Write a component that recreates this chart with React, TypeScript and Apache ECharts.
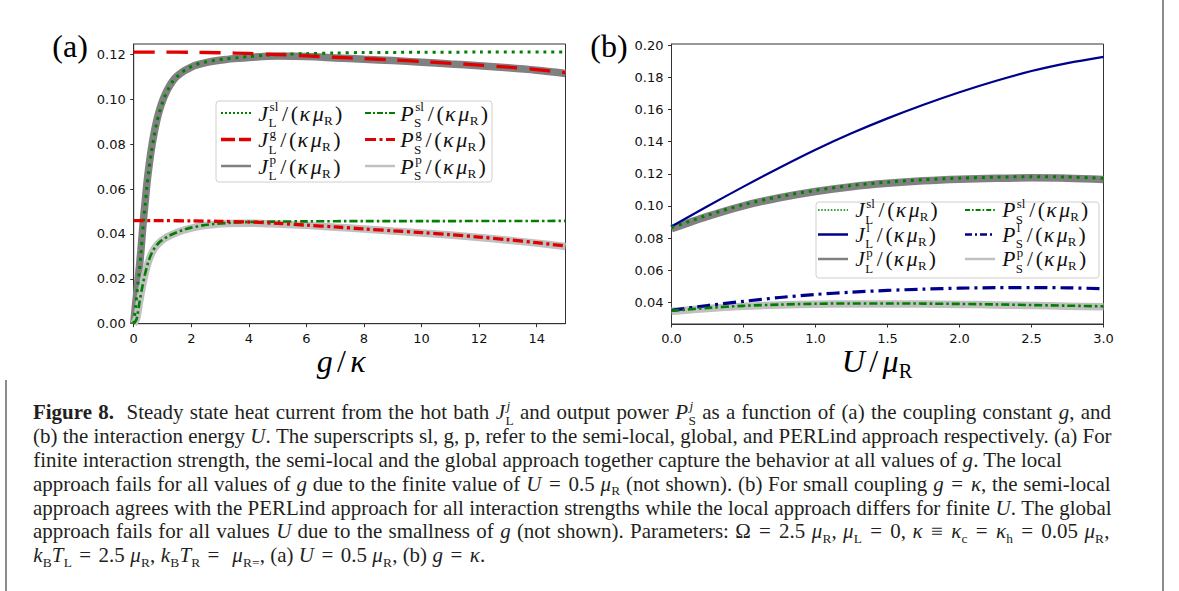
import React, { useEffect, useRef } from 'react';
import * as echarts from 'echarts';

// ---------------- Panel (a): x = g/κ ----------------
const A_Jsl: number[][] = [[0,0],[0.07,0.008],[0.14,0.017],[0.2,0.024],[0.25,0.031],[0.3,0.039],[0.35,0.0465],[0.4,0.053],[0.46,0.061],[0.53,0.0685],[0.61,0.076],[0.7,0.083],[0.8,0.0895],[0.9,0.0945],[1.0,0.0985],[1.1,0.1018],[1.2,0.1045],[1.35,0.1078],[1.5,0.11],[1.7,0.1122],[1.85,0.1135],[2.1,0.1152],[2.4,0.1163],[2.8,0.1173],[3.2,0.118],[3.6,0.1185],[4.0,0.119],[4.5,0.1195],[5,0.1199],[6,0.1203],[7,0.1206],[8,0.1208],[10,0.1209],[12,0.121],[15,0.121]];
const A_Jg: number[][] = [[0,0.121],[1,0.121],[2,0.1209],[3,0.1207],[4,0.1204],[5,0.1199],[6,0.1193],[7,0.1187],[8,0.1181],[9,0.1175],[10,0.1168],[11,0.116],[12,0.1152],[13,0.1143],[14,0.1132],[15,0.1118]];
const A_Jp: number[][] = [[0,0],[0.07,0.009],[0.14,0.018],[0.2,0.0255],[0.25,0.0325],[0.3,0.0405],[0.35,0.048],[0.4,0.0545],[0.46,0.0625],[0.53,0.07],[0.61,0.0775],[0.7,0.0843],[0.8,0.0905],[0.9,0.0953],[1.0,0.0992],[1.1,0.1023],[1.2,0.1049],[1.35,0.108],[1.5,0.1102],[1.7,0.1122],[1.85,0.1133],[2.1,0.1149],[2.4,0.116],[2.8,0.117],[3.2,0.1177],[3.6,0.1182],[4.0,0.1186],[4.5,0.119],[5,0.1192],[6,0.119],[7,0.1184],[8,0.1178],[9,0.1172],[10,0.1165],[11,0.1157],[12,0.1149],[13,0.114],[14,0.1129],[15,0.1115]];
const A_Psl: number[][] = [[0,0],[0.1,0.002],[0.2,0.0095],[0.3,0.0165],[0.4,0.0225],[0.5,0.0272],[0.6,0.0307],[0.7,0.0332],[0.8,0.035],[0.9,0.0364],[1.0,0.0374],[1.2,0.039],[1.4,0.0402],[1.7,0.0417],[2.0,0.0428],[2.4,0.0438],[2.8,0.0444],[3.3,0.0449],[4,0.0453],[5,0.0455],[6,0.0456],[8,0.0457],[10,0.0457],[15,0.0458]];
const A_Pg: number[][] = [[0,0.0459],[1,0.0459],[2,0.0458],[3,0.0456],[4,0.0453],[5,0.0447],[6,0.0439],[7,0.0431],[8,0.0422],[9,0.0414],[10,0.0406],[11,0.0397],[12,0.0386],[13,0.0374],[14,0.0361],[15,0.0346]];
const A_Pp: number[][] = [[0,0],[0.1,0.0022],[0.2,0.0095],[0.3,0.0165],[0.4,0.0225],[0.5,0.0272],[0.6,0.0306],[0.7,0.0331],[0.8,0.0349],[0.9,0.0362],[1.0,0.0373],[1.2,0.0389],[1.4,0.0401],[1.7,0.0415],[2.0,0.0426],[2.4,0.0436],[2.8,0.0442],[3.3,0.0446],[4,0.0448],[5,0.0444],[6,0.0438],[7,0.043],[8,0.0422],[9,0.0413],[10,0.0404],[11,0.0395],[12,0.0384],[13,0.0372],[14,0.0359],[15,0.0344]];

// ---------------- Panel (b): x = U/μR ----------------
const B_U = [0, 0.25, 0.5, 0.75, 1.0, 1.25, 1.5, 1.75, 2.0, 2.25, 2.5, 2.75, 3.0];
const B_Jl = [0.0872, 0.0998, 0.112, 0.1238, 0.1350, 0.1452, 0.1545, 0.1630, 0.1708, 0.1778, 0.1840, 0.1889, 0.1928];
const B_Jsl = [0.0865, 0.0942, 0.1008, 0.1058, 0.1097, 0.1127, 0.1148, 0.1163, 0.1173, 0.1179, 0.1182, 0.118, 0.1172];
const B_Jp = [0.0858, 0.0935, 0.1001, 0.1051, 0.109, 0.112, 0.1141, 0.1156, 0.1166, 0.1172, 0.1175, 0.1173, 0.1165];
const B_Pl = [0.035, 0.038, 0.0406, 0.043, 0.0449, 0.0463, 0.0474, 0.0482, 0.0488, 0.0491, 0.0492, 0.049, 0.0485];
const B_Psl = [0.0347, 0.0365, 0.0378, 0.0386, 0.0391, 0.0393, 0.0393, 0.0392, 0.039, 0.0387, 0.0383, 0.0379, 0.0375];
const B_Pp = [0.0344, 0.0362, 0.0375, 0.0383, 0.0388, 0.039, 0.039, 0.0389, 0.0387, 0.0384, 0.038, 0.0376, 0.0372];

// ---------------- ticks ----------------
const A_XTICKS = [0, 2, 4, 6, 8, 10, 12, 14];
const A_YTICKS = [0, 0.02, 0.04, 0.06, 0.08, 0.1, 0.12];
const B_XTICKS = [0, 0.5, 1, 1.5, 2, 2.5, 3];
const B_YTICKS = [0.04, 0.06, 0.08, 0.1, 0.12, 0.14, 0.16, 0.18, 0.2];

// ---------------- texts (kind, text) ----------------
type Seg = [string, string];
const EQ = (s: string): Seg[] => [['g', '2'], ['n', s], ['g', '2']];
const CAPTION: Seg[][] = [
  [['b', 'Figure 8.'], ['n', '  Steady state heat current from the hot bath '], ['i', 'J'], ['sui', 'j'], ['d', 'L'], ['n', ' and output power '], ['i', 'P'], ['sui', 'j'], ['d', 'S'], ['n', ' as a function of (a) the coupling constant '], ['i', 'g'], ['n', ', and']],
  [['n', '(b) the interaction energy '], ['i', 'U'], ['n', '. The superscripts sl, g, p, refer to the semi-local, global, and PERLind approach respectively. (a) For']],
  [['n', 'finite interaction strength, the semi-local and the global approach together capture the behavior at all values of '], ['i', 'g'], ['n', '. The local']],
  [['n', 'approach fails for all values of '], ['i', 'g'], ['n', ' due to the finite value of '], ['i', 'U'], ...EQ(' = '), ['n', '0.5 '], ['i', 'μ'], ['d', 'R'], ['n', ' (not shown). (b) For small coupling '], ['i', 'g'], ...EQ(' = '), ['i', 'κ'], ['n', ', the semi-local']],
  [['n', 'approach agrees with the PERLind approach for all interaction strengths while the local approach differs for finite '], ['i', 'U'], ['n', '. The global']],
  [['n', 'approach fails for all values '], ['i', 'U'], ['n', ' due to the smallness of '], ['i', 'g'], ['n', ' (not shown). Parameters: Ω'], ...EQ(' = '), ['n', '2.5 '], ['i', 'μ'], ['d', 'R'], ['n', ', '], ['i', 'μ'], ['d', 'L'], ...EQ(' = '), ['n', '0, '], ['i', 'κ'], ...EQ(' ≡ '), ['i', 'κ'], ['d', 'c'], ...EQ(' = '), ['i', 'κ'], ['d', 'h'], ...EQ(' = '), ['n', '0.05 '], ['i', 'μ'], ['d', 'R'], ['n', ',']],
  [['i', 'k'], ['d', 'B'], ['i', 'T'], ['d', 'L'], ...EQ(' = '), ['n', '2.5 '], ['i', 'μ'], ['d', 'R'], ['n', ', '], ['i', 'k'], ['d', 'B'], ['i', 'T'], ['d', 'R'], ...EQ(' = '), ['n', ' '], ['i', 'μ'], ['d', 'R='], ['n', ', (a) '], ['i', 'U'], ...EQ(' = '), ['n', '0.5 '], ['i', 'μ'], ['d', 'R'], ['n', ', (b) '], ['i', 'g'], ...EQ(' = '), ['i', 'κ'], ['n', '.']],
];
const JUSTIFY = [true, true, false, true, true, true, false];
const lbl = (sym: string, sup: string, sub: string): Seg[] => [['i', sym], ['su', sup], ['d', sub], ['g', '3.5'], ['n', '/'], ['g', '2.5'], ['n', '('], ['g', '1'], ['i', 'κ'], ['g', '2.5'], ['i', 'μ'], ['d', 'R'], ['g', '2'], ['n', ')']];
const LEG_A = [lbl('J', 'sl', 'L'), lbl('J', 'g', 'L'), lbl('J', 'p', 'L'), lbl('P', 'sl', 'S'), lbl('P', 'g', 'S'), lbl('P', 'p', 'S')];
const LEG_B = [lbl('J', 'sl', 'L'), lbl('J', 'l', 'L'), lbl('J', 'p', 'L'), lbl('P', 'sl', 'S'), lbl('P', 'l', 'S'), lbl('P', 'p', 'S')];
const XNAME_A: Seg[] = [['i', 'g'], ['g', '4'], ['n', '/'], ['g', '4'], ['i', 'κ']];
const XNAME_B: Seg[] = [['i', 'U'], ['g', '4'], ['n', '/'], ['g', '4'], ['i', 'μ'], ['d', 'R']];

// ---------------- styles ----------------
const SERIF = 'Liberation Serif';
const SANS = 'DejaVu Sans';
const GREEN = '#008000';
const RED = '#e00000';
const BLUE = '#00008b';
const GRAY = '#808080';
const LGRAY = '#c0c0c0';
const AX = '#333333';
const INK = '#231f20';

let mctx: CanvasRenderingContext2D | null = null;
function measure(t: string, size: number, italic: boolean, bold: boolean): number {
  if (!mctx) mctx = document.createElement('canvas').getContext('2d');
  if (!mctx) return t.length * size * 0.45;
  mctx.font = `${italic ? 'italic ' : ''}${bold ? 'bold ' : ''}${size}px "${SERIF}"`;
  return mctx.measureText(t).width;
}

function textEl(t: string, x: number, baseline: number, size: number, italic: boolean, bold: boolean, color: string) {
  return {
    type: 'text', x, y: baseline - 0.3375 * size, silent: true, z: 100,
    style: { text: t, fontFamily: SERIF, fontSize: size, fontStyle: italic ? 'italic' : 'normal', fontWeight: bold ? 'bold' : 'normal', fill: color, align: 'left', verticalAlign: 'middle' },
  };
}

function countSpaces(segs: Seg[]): number {
  let n = 0;
  for (const [k, t] of segs) if (k === 'n' || k === 'b') n += (t.match(/ /g) || []).length;
  return n;
}

// lays out a run of math/text pieces; `extra` = additional px per space (justification)
function layout(segs: Seg[], x0: number, base: number, S: number, color: string, out: any[] | null, extra = 0, scr = 0.64): number {
  let x = x0;
  let stackX: number | null = null;
  let stackEnd = 0;
  for (const [k, raw] of segs) {
    if (k === 'g') { x += parseFloat(raw); continue; }
    const sup = k === 'u' || k === 'ui' || k === 'su' || k === 'sui';
    const sub = k === 'd' || k === 'di';
    const size = sup || sub ? S * scr : S;
    const italic = k === 'i' || k === 'ui' || k === 'sui' || k === 'di';
    const bold = k === 'b';
    const stacked = k === 'su' || k === 'sui';
    let b = base;
    if (sup) b = base - 0.43 * S;
    if (sub) b = base + (stackX !== null ? 0.3 : 0.2) * S;
    if (extra > 0 && (k === 'n' || k === 'b') && raw.indexOf(' ') >= 0) {
      const parts = raw.split(/( +)/).filter((p) => p.length > 0);
      for (const p of parts) {
        if (p[0] === ' ') {
          x += measure(p, size, italic, bold) + extra * p.length;
        } else {
          if (out) out.push(textEl(p, x, b, size, italic, bold, color));
          x += measure(p, size, italic, bold);
        }
      }
      continue;
    }
    const trimmedStart = raw.replace(/^ +/, '');
    const lead = raw.length - trimmedStart.length;
    const txt = raw.trim();
    const full = measure(raw, size, italic, bold);
    const leadW = lead ? measure(raw.slice(0, lead), size, italic, bold) : 0;
    const sx = stackX !== null && sub ? stackX + 0.02 * S : x + (sup ? 0.07 * S : 0.01 * S);
    if (txt && out) out.push(textEl(txt, sx + leadW, b, size, italic, bold, color));
    if (stacked) {
      stackX = x;
      stackEnd = sx + full;
    } else if (stackX !== null && sub) {
      x = Math.max(stackEnd, sx + full);
      stackX = null;
    } else {
      x = sx + full;
    }
  }
  return x - x0;
}

function centered(segs: Seg[], cx: number, base: number, S: number, color: string, out: any[]) {
  const w = layout(segs, 0, base, S, color, null);
  layout(segs, cx - w / 2, base, S, color, out);
}

type Handle = { color: string; width: number; dash?: number[] };

function legendBox(out: any[], box: { x: number; y: number; w: number; h: number }, labels: Seg[][], handles: Handle[], cols: { hx: number; tx: number }[], rowsY: number[], S: number) {
  out.push({ type: 'rect', z: 90, silent: true, shape: { x: box.x, y: box.y, width: box.w, height: box.h, r: 3 }, style: { fill: 'rgba(255,255,255,0.85)', stroke: '#cfcfcf', lineWidth: 1 } });
  for (let i = 0; i < 6; i++) {
    const c = cols[Math.floor(i / 3)];
    const ry = rowsY[i % 3];
    const h = handles[i];
    out.push({ type: 'line', z: 95, silent: true, shape: { x1: c.hx, y1: ry, x2: c.hx + 30, y2: ry }, style: { stroke: h.color, lineWidth: h.width, lineDash: h.dash || null, lineCap: 'butt' } });
    layout(labels[i], c.tx, ry + 7.5, S, '#111', out, 0, 0.6);
  }
}

function buildOption() {
  const g: any[] = [];
  // page rules
  g.push({ type: 'line', silent: true, shape: { x1: 1163, y1: 0, x2: 1163, y2: 591 }, style: { stroke: '#8c8c8c', lineWidth: 2 } });
  g.push({ type: 'line', silent: true, shape: { x1: 6, y1: 380, x2: 6, y2: 591 }, style: { stroke: '#8c8c8c', lineWidth: 2 } });
  // panel labels
  layout([['n', '(a)']], 52, 57, 32, '#000', g);
  layout([['n', '(b)']], 590, 57, 32, '#000', g);
  // axis names
  centered(XNAME_A, 341, 372, 32, '#000', g);
  centered(XNAME_B, 877, 372, 32, '#000', g);
  // legends
  legendBox(g, { x: 216, y: 101, w: 276, h: 81 }, LEG_A,
    [
      { color: GREEN, width: 2, dash: [2, 2] },
      { color: RED, width: 3.5, dash: [14, 4] },
      { color: GRAY, width: 2.5 },
      { color: GREEN, width: 2, dash: [6, 2, 2, 2] },
      { color: RED, width: 3, dash: [11, 3.5, 3, 3.5] },
      { color: LGRAY, width: 2.5 },
    ],
    [{ hx: 221, tx: 258 }, { hx: 365, tx: 400 }], [113, 139.5, 166], 22);
  legendBox(g, { x: 816, y: 202, w: 283, h: 76 }, LEG_B,
    [
      { color: GREEN, width: 1.6, dash: [1.6, 1.6] },
      { color: BLUE, width: 2.5 },
      { color: GRAY, width: 2.5 },
      { color: GREEN, width: 2, dash: [5, 2, 1.6, 2] },
      { color: BLUE, width: 2.5, dash: [7, 3, 2, 3] },
      { color: LGRAY, width: 2.5 },
    ],
    [{ hx: 818, tx: 855 }, { hx: 965, tx: 1002 }], [210, 234.5, 259], 21.5);
  // caption
  const ref = layout(CAPTION[1], 0, 0, 18, INK, null);
  const CS = Math.max(15, Math.min(21, (18 * 1079) / ref));
  const RIGHT = 1112;
  CAPTION.forEach((line, i) => {
    let extra = 0;
    if (JUSTIFY[i]) {
      const w = layout(line, 0, 0, CS, INK, null);
      const n = countSpaces(line);
      if (n > 0 && w < RIGHT - 33) extra = (RIGHT - 33 - w) / n;
    }
    layout(line, 33, 419 + i * 23.9, CS, INK, g, extra);
  });

  const axisBase = (min: number, max: number, ticks: number[], dec: number, grid: number) => ({
    type: 'value', gridIndex: grid, min, max, scale: true,
    axisLine: { show: true, onZero: false, lineStyle: { color: AX, width: 1 } },
    axisTick: { show: true, inside: false, length: 3.5, lineStyle: { color: AX, width: 1 }, customValues: ticks },
    axisLabel: { show: true, customValues: ticks, formatter: (v: number) => v.toFixed(dec), fontFamily: SANS, fontSize: 13, color: '#111', margin: 8 },
    splitLine: { show: false },
  });

  const line = (name: string, data: number[][], idx: number, color: string, width: number, dash: any, z: number) => ({
    type: 'line', name, xAxisIndex: idx, yAxisIndex: idx, data, symbol: 'none', showSymbol: false,
    smooth: 0.3, silent: true, z, emphasis: { disabled: true },
    lineStyle: { color, width, type: dash, cap: 'butt' },
  });
  const zipB = (ys: number[]) => B_U.map((u, i) => [u, ys[i]]);

  return {
    animation: false,
    backgroundColor: '#ffffff',
    grid: [
      { left: 133.7, top: 44, width: 431.8, height: 279.7, show: true, borderColor: AX, borderWidth: 1, backgroundColor: 'transparent' },
      { left: 671.5, top: 44, width: 432, height: 280, show: true, borderColor: AX, borderWidth: 1, backgroundColor: 'transparent' },
    ],
    xAxis: [axisBase(0, 15, A_XTICKS, 0, 0), axisBase(0, 3, B_XTICKS, 1, 1)],
    yAxis: [axisBase(0, 0.1246, A_YTICKS, 2, 0), axisBase(0.0265, 0.2008, B_YTICKS, 2, 1)],
    series: [
      line('Jp_a', A_Jp, 0, GRAY, 7.5, 'solid', 2),
      line('Pp_a', A_Pp, 0, LGRAY, 7.5, 'solid', 2),
      line('Jsl_a', A_Jsl, 0, GREEN, 3, [3, 4.9], 3),
      line('Psl_a', A_Psl, 0, GREEN, 2.6, [8, 3, 2.5, 3], 3),
      line('Jg_a', A_Jg, 0, RED, 3.3, [21, 12], 4),
      line('Pg_a', A_Pg, 0, RED, 3.3, [10, 3.5, 3, 3.5], 4),
      line('Jp_b', zipB(B_Jp), 1, GRAY, 7.5, 'solid', 2),
      line('Pp_b', zipB(B_Pp), 1, LGRAY, 7.5, 'solid', 2),
      line('Jl_b', zipB(B_Jl), 1, BLUE, 2.2, 'solid', 3),
      line('Pl_b', zipB(B_Pl), 1, BLUE, 3.2, [13, 5, 3, 5], 3),
      line('Jsl_b', zipB(B_Jsl), 1, GREEN, 3, [3, 4.9], 4),
      line('Psl_b', zipB(B_Psl), 1, GREEN, 2.6, [8, 3, 2.5, 3], 4),
    ],
    graphic: { elements: g },
  };
}

export default function App() {
  const ref = useRef<HTMLDivElement>(null);
  useEffect(() => {
    if (!ref.current) return;
    const chart = echarts.init(ref.current, undefined, { renderer: 'svg' });
    chart.setOption(buildOption() as any);
    return () => chart.dispose();
  }, []);
  return <div ref={ref} style={{ position: 'absolute', left: 0, top: 0, width: 1179, height: 591, background: '#fff' }} />;
}
